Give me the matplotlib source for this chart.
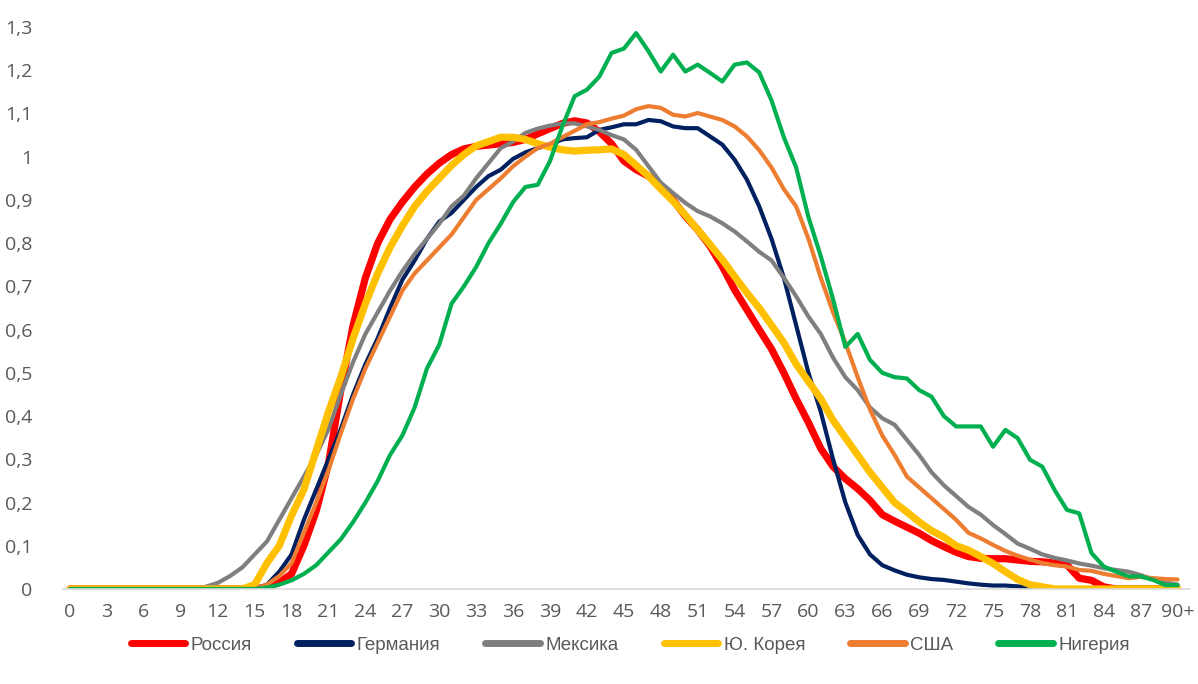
import matplotlib
matplotlib.use("Agg")
import matplotlib.pyplot as plt

# age 0 .. 90+
ages = list(range(91))
age_labels = [str(a) for a in range(0, 90, 3)] + ["90+"]

russia = [0]*16 + [0.005, 0.015, 0.035, 0.1, 0.18, 0.29, 0.46, 0.61, 0.72, 0.8,
          0.855, 0.895, 0.93, 0.96, 0.985, 1.005, 1.018, 1.024, 1.027, 1.03,
          1.033, 1.04, 1.053, 1.065, 1.077, 1.083, 1.078, 1.058, 1.03, 0.99,
          0.97, 0.955, 0.932, 0.9, 0.862, 0.831, 0.793, 0.746, 0.692, 0.646,
          0.6, 0.555, 0.5, 0.44, 0.385, 0.325, 0.283, 0.255, 0.232, 0.205,
          0.172, 0.157, 0.143, 0.129, 0.112, 0.098, 0.085, 0.075, 0.071, 0.07,
          0.07, 0.067, 0.064, 0.063, 0.06, 0.056, 0.025, 0.02, 0.005,
          0, 0, 0, 0, 0, 0]

germany = [0]*16 + [0.01, 0.04, 0.08, 0.16, 0.23, 0.3, 0.37, 0.45, 0.52, 0.58,
           0.65, 0.715, 0.76, 0.81, 0.85, 0.87, 0.9, 0.93, 0.955, 0.97,
           0.995, 1.01, 1.02, 1.028, 1.04, 1.043, 1.045, 1.062, 1.068, 1.075,
           1.075, 1.085, 1.082, 1.07, 1.066, 1.066, 1.047, 1.028, 0.993, 0.947,
           0.885, 0.81, 0.72, 0.61, 0.5, 0.41, 0.3, 0.2, 0.125, 0.08,
           0.055, 0.043, 0.033, 0.027, 0.023, 0.021, 0.017, 0.013, 0.01, 0.008,
           0.008, 0.006, 0.004, 0.002, 0, 0, 0, 0, 0, 0, 0, 0, 0, 0, 0]

mexico = [0]*11 + [0.005, 0.014, 0.03, 0.05, 0.08, 0.11, 0.16, 0.21, 0.26, 0.31,
          0.37, 0.45, 0.525, 0.59, 0.64, 0.69, 0.735, 0.775, 0.81, 0.845,
          0.885, 0.91, 0.95, 0.985, 1.02, 1.035, 1.055, 1.065, 1.072, 1.077,
          1.077, 1.07, 1.062, 1.05, 1.04, 1.016, 0.978, 0.94, 0.916, 0.893,
          0.874, 0.862, 0.846, 0.827, 0.804, 0.78, 0.76, 0.72, 0.677, 0.63,
          0.59, 0.535, 0.49, 0.46, 0.42, 0.395, 0.38, 0.345, 0.31, 0.27,
          0.24, 0.215, 0.19, 0.172, 0.148, 0.127, 0.105, 0.093, 0.08, 0.072,
          0.066, 0.059, 0.054, 0.048, 0.044, 0.04, 0.032, 0.022, 0.015, 0.01]

korea = [0]*15 + [0.01, 0.06, 0.1, 0.17, 0.23, 0.32, 0.41, 0.49, 0.58, 0.66,
         0.73, 0.79, 0.84, 0.885, 0.92, 0.95, 0.98, 1.005, 1.025, 1.035,
         1.045, 1.045, 1.04, 1.03, 1.022, 1.016, 1.013, 1.015, 1.016, 1.018,
         1.005, 0.98, 0.955, 0.925, 0.897, 0.865, 0.831, 0.797, 0.762, 0.723,
         0.685, 0.65, 0.61, 0.57, 0.52, 0.48, 0.44, 0.39, 0.35, 0.31,
         0.27, 0.235, 0.2, 0.178, 0.155, 0.135, 0.12, 0.1, 0.09, 0.075,
         0.059, 0.04, 0.022, 0.01, 0.005, 0, 0, 0, 0, 0, 0, 0, 0, 0, 0, 0]

usa = [0]*16 + [0.01, 0.03, 0.06, 0.13, 0.2, 0.275, 0.36, 0.44, 0.51, 0.57,
       0.63, 0.69, 0.73, 0.76, 0.79, 0.82, 0.86, 0.9, 0.925, 0.95,
       0.978, 1.0, 1.02, 1.03, 1.045, 1.06, 1.075, 1.08, 1.088, 1.095,
       1.11, 1.117, 1.113, 1.097, 1.093, 1.101, 1.093, 1.085, 1.07, 1.047,
       1.015, 0.975, 0.925, 0.885, 0.81, 0.72, 0.64, 0.57, 0.49, 0.415,
       0.355, 0.31, 0.26, 0.235, 0.21, 0.185, 0.16, 0.13, 0.117, 0.102,
       0.088, 0.077, 0.068, 0.06, 0.055, 0.052, 0.044, 0.042, 0.035, 0.03,
       0.025, 0.028, 0.025, 0.023, 0.022]

nigeria = [0]*16 + [0.003, 0.01, 0.02, 0.035, 0.055, 0.085, 0.115, 0.155, 0.2, 0.25,
           0.31, 0.355, 0.42, 0.51, 0.565, 0.66, 0.7, 0.745, 0.8, 0.845,
           0.895, 0.93, 0.935, 0.99, 1.07, 1.14, 1.155, 1.185, 1.24, 1.25,
           1.286, 1.244, 1.197, 1.236, 1.197, 1.213, 1.194, 1.174, 1.213, 1.218,
           1.195, 1.13, 1.045, 0.975, 0.86, 0.77, 0.67, 0.56, 0.59, 0.53,
           0.5, 0.49, 0.487, 0.46, 0.445, 0.4, 0.376, 0.376, 0.376, 0.329,
           0.368, 0.349, 0.299, 0.283, 0.229, 0.183, 0.175, 0.083, 0.052, 0.04,
           0.029, 0.029, 0.021, 0.009, 0.009]

series = [
    ("Россия", russia, "#FF0000", 5.2),
    ("Германия", germany, "#002060", 3.0),
    ("Мексика", mexico, "#7F7F7F", 3.0),
    ("Ю. Корея", korea, "#FFC000", 5.2),
    ("США", usa, "#ED7D31", 3.0),
    ("Нигерия", nigeria, "#00B050", 3.0),
]

fig = plt.figure(figsize=(11.98, 6.84), dpi=100)
ax = fig.add_axes([0.0523, 0.1389, 0.941, 0.8216])

for name, vals, color, lw in series:
    ax.plot(ages, vals, color=color, linewidth=lw, label=name,
            solid_joinstyle="round", solid_capstyle="round")

ax.set_xlim(-0.6, 91)
ax.set_ylim(0, 1.3)

ax.set_xticks(list(range(0, 90, 3)) + [90])
ax.set_xticklabels(age_labels)
yt = [i / 10 for i in range(14)]
ax.set_yticks(yt)
ax.set_yticklabels([("%g" % v).replace(".", ",") for v in yt])

ax.tick_params(axis="both", length=0, labelsize=14, labelcolor="#595959")
ax.tick_params(axis="x", pad=10)
ax.tick_params(axis="y", pad=22)
for lab in ax.get_xticklabels() + ax.get_yticklabels():
    lab.set_family(["Open Sans", "DejaVu Sans"])

for s in ["top", "right", "left"]:
    ax.spines[s].set_visible(False)
ax.spines["bottom"].set_color("#D9D9D9")
ax.spines["bottom"].set_linewidth(1.2)

leg = fig.legend(loc="center", bbox_to_anchor=(0.526, 0.057), ncol=6,
                 frameon=False, handlelength=2.9, handletextpad=0.3,
                 columnspacing=2.4,
                 prop={"family": ["Liberation Sans", "DejaVu Sans"], "size": 13.5})
for t in leg.get_texts():
    t.set_color("#595959")
for h in leg.get_lines():
    h.set_linewidth(5)
    h.set_solid_capstyle("round")

fig.savefig("out.png", dpi=100)
